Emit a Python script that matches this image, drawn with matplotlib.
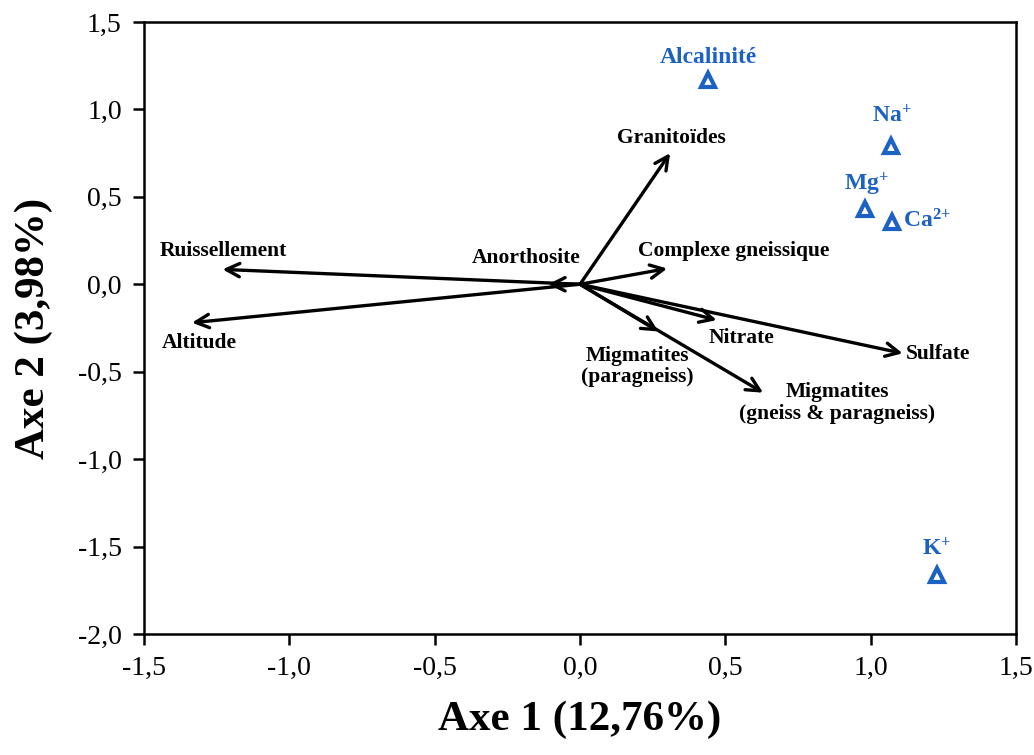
import matplotlib
matplotlib.use('Agg')
from matplotlib import pyplot as plt
from matplotlib.ticker import FixedLocator, FuncFormatter

plt.rcParams['font.family'] = ['Liberation Serif', 'DejaVu Serif']
plt.rcParams['mathtext.fontset'] = 'custom'
plt.rcParams['mathtext.rm'] = 'Liberation Serif:bold'
plt.rcParams['mathtext.bf'] = 'Liberation Serif:bold'
plt.rcParams['mathtext.default'] = 'rm'

# variables (arrows)
var_names = ['Ruissellement', 'Altitude', 'Anorthosite', 'Granitoïdes',
             'Complexe gneissique', 'Nitrate', 'Sulfate',
             'Migmatites\n(paragneiss)', 'Migmatites\n(gneiss & paragneiss)']
var_x = [-1.23, -1.335, -0.11, 0.31, 0.30, 0.47, 1.11, 0.27, 0.63]
var_y = [0.085, -0.22, 0.0, 0.75, 0.09, -0.205, -0.395, -0.27, -0.62]
# label positions of the variables
var_lx = [-1.228, -1.31, -0.186, 0.316, 0.53, 0.554, 1.12, 0.196, 0.884]
var_ly = [0.19, -0.337, 0.149, 0.835, 0.19, -0.309, -0.40, -0.469, -0.68]
var_ha = ['center', 'center', 'center', 'center', 'center', 'center', 'left', 'center', 'center']

# ions (triangles)
ion_names = ['Alcalinité', r'Na$^{+}$', r'Mg$^{+}$', r'Ca$^{2{+}}$', r'K$^{+}$']
ion_x = [0.44, 1.07, 0.98, 1.073, 1.228]
ion_y = [1.166, 0.79, 0.43, 0.354, -1.664]
ion_lx = [0.44, 1.073, 0.984, 1.11, 1.228]
ion_ly = [1.298, 0.965, 0.57, 0.365, -1.515]
ion_ha = ['center', 'center', 'center', 'left', 'center']

blue = '#1c62c4'

fig = plt.figure(figsize=(10.34, 7.55), dpi=100)
ax = fig.add_axes([0.1393, 0.1603, 0.8433, 0.8106])
ax.set_xlim(-1.5, 1.5)
ax.set_ylim(-2.0, 1.5)

# arrows
for x, y in zip(var_x, var_y):
	ax.annotate('', xy=(x, y), xytext=(0, 0),
		arrowprops=dict(arrowstyle='->', color='black', lw=2.4, mutation_scale=24,
		shrinkA=0, shrinkB=0))
for name, lx, ly, ha in zip(var_names, var_lx, var_ly, var_ha):
	ax.text(lx, ly, name, ha=ha, va='center', fontsize=15.5, fontweight='bold',
		linespacing=1.1)

# ions
ax.plot(ion_x, ion_y, linestyle='none', marker='^', markersize=10,
	markerfacecolor='white', markeredgecolor=blue, markeredgewidth=3)
for name, lx, ly, ha in zip(ion_names, ion_lx, ion_ly, ion_ha):
	ax.text(lx, ly, name, ha=ha, va='center', fontsize=17, fontweight='bold', color=blue)

# axes styling
for s in ax.spines.values():
	s.set_linewidth(1.8)
ax.xaxis.set_major_locator(FixedLocator([-1.5, -1.0, -0.5, 0.0, 0.5, 1.0, 1.5]))
ax.yaxis.set_major_locator(FixedLocator([-2.0, -1.5, -1.0, -0.5, 0.0, 0.5, 1.0, 1.5]))
fmt = FuncFormatter(lambda v, p: ('%.1f' % v).replace('.', ','))
ax.xaxis.set_major_formatter(fmt)
ax.yaxis.set_major_formatter(fmt)
ax.tick_params(direction='out', length=8, width=1.8, labelsize=20, pad=8)
ax.set_xlabel('Axe 1 (12,76%)', fontsize=31, fontweight='bold', labelpad=14)
ax.set_ylabel('Axe 2 (3,98%)', fontsize=31, fontweight='bold', labelpad=18)

fig.savefig('out.png', dpi=100)
